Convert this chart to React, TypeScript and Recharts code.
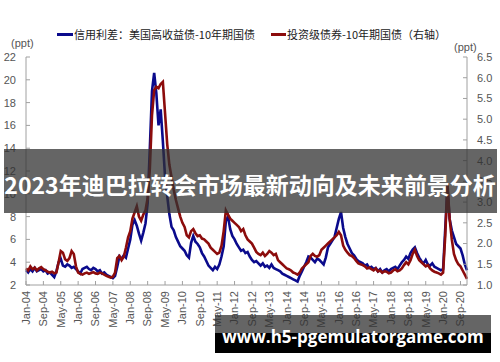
import React from 'react';
import { LineChart, Line, XAxis, YAxis } from 'recharts';

// Categories: monthly, Jan-04 .. Dec-20
const years = [2004, 2005, 2006, 2007, 2008, 2009, 2010, 2011, 2012, 2013, 2014, 2015, 2016, 2017, 2018, 2019, 2020];
const monthNames = ['Jan', 'Feb', 'Mar', 'Apr', 'May', 'Jun', 'Jul', 'Aug', 'Sep', 'Oct', 'Nov', 'Dec'];
const categories = years.flatMap((y) => monthNames.map((m) => `${m}-${String(y).slice(2)}`));

// 信用利差：美国高收益债-10年期国债 (left axis, ppt)
const hySpread = [
  3.3, 3.1, 3.4, 3.2, 3.5, 3.2, 3.3, 3.4, 3.2, 3.3, 3.0, 3.1, // 2004
  2.9, 2.7, 3.2, 4.0, 4.3, 3.7, 3.6, 3.8, 3.7, 3.5, 3.6, 3.4, // 2005
  3.2, 3.0, 3.4, 3.5, 3.6, 3.4, 3.3, 3.5, 3.4, 3.2, 3.3, 3.0, // 2006
  3.1, 2.9, 2.8, 2.7, 2.6, 2.8, 3.6, 4.5, 4.3, 4.6, 4.4, 5.2, // 2007
  6.0, 7.3, 7.7, 7.2, 6.5, 5.9, 6.6, 7.4, 9.2, 14.0, 19.0, 20.6, // 2008
  18.8, 16.0, 17.4, 14.6, 11.5, 9.8, 8.2, 7.1, 6.8, 6.2, 5.8, 5.4, // 2009
  5.2, 5.0, 4.6, 4.4, 5.7, 6.3, 5.8, 5.6, 5.3, 4.8, 4.5, 4.1, // 2010
  3.7, 3.5, 3.3, 3.6, 3.4, 3.8, 4.5, 5.4, 7.6, 8.0, 6.9, 6.3, // 2011
  6.0, 5.6, 5.3, 5.0, 5.1, 4.8, 4.9, 4.5, 4.2, 4.0, 4.1, 3.9, // 2012
  3.7, 3.9, 3.6, 3.7, 3.5, 3.8, 3.5, 3.4, 3.3, 3.2, 3.0, 2.9, // 2013
  2.8, 2.7, 2.6, 2.5, 2.4, 2.3, 2.8, 3.2, 3.6, 4.0, 4.5, 4.4, // 2014
  4.2, 4.0, 4.3, 4.2, 4.0, 3.8, 4.4, 5.3, 5.6, 5.9, 6.2, 7.0, // 2015
  7.8, 8.4, 7.0, 6.2, 5.6, 5.2, 4.8, 4.6, 4.3, 4.1, 4.0, 3.9, // 2016
  3.7, 3.8, 3.5, 3.6, 3.4, 3.5, 3.2, 3.4, 3.1, 3.3, 3.4, 3.2, // 2017
  3.4, 3.5, 3.6, 3.4, 3.7, 4.0, 4.2, 4.5, 4.3, 4.8, 5.1, 5.3, // 2018
  4.8, 4.4, 4.1, 3.9, 4.2, 3.8, 3.7, 3.9, 3.6, 3.5, 3.4, 3.3, // 2019
  3.4, 7.0, 10.6, 7.8, 6.8, 6.2, 5.6, 5.4, 5.2, 4.6, 3.8, 3.3, // 2020
];

// 投资级债券-10年期国债 (right axis, ppt)
const igSpread = [
  1.40, 1.35, 1.45, 1.38, 1.42, 1.35, 1.40, 1.43, 1.38, 1.35, 1.32, 1.30, // 2004
  1.32, 1.28, 1.30, 1.55, 1.82, 1.78, 1.62, 1.58, 1.65, 1.82, 1.75, 1.45, // 2005
  1.30, 1.27, 1.25, 1.28, 1.30, 1.27, 1.29, 1.31, 1.28, 1.27, 1.30, 1.28, // 2006
  1.25, 1.22, 1.20, 1.18, 1.20, 1.30, 1.65, 1.70, 1.60, 1.68, 1.90, 2.15, // 2007
  2.30, 2.60, 2.75, 2.90, 2.65, 2.55, 2.70, 2.80, 3.10, 3.80, 5.10, 5.70, // 2008
  5.78, 5.75, 5.85, 5.90, 5.15, 4.40, 3.90, 3.60, 3.30, 3.05, 2.85, 2.65, // 2009
  2.50, 2.40, 2.20, 2.15, 2.30, 2.35, 2.25, 2.18, 2.20, 2.12, 2.10, 2.05, // 2010
  2.00, 1.90, 1.85, 1.80, 1.75, 1.78, 1.95, 2.30, 2.80, 2.70, 2.60, 2.55, // 2011
  2.50, 2.45, 2.40, 2.30, 2.35, 2.20, 2.10, 2.05, 2.00, 1.90, 1.80, 1.75, // 2012
  1.72, 1.78, 1.70, 1.75, 1.82, 1.78, 1.72, 1.75, 1.60, 1.55, 1.50, 1.45, // 2013
  1.40, 1.38, 1.35, 1.30, 1.28, 1.25, 1.30, 1.40, 1.45, 1.50, 1.55, 1.70, // 2014
  1.75, 1.70, 1.68, 1.72, 1.85, 1.90, 1.95, 2.00, 2.05, 2.10, 2.15, 2.20, // 2015
  2.28, 2.20, 1.95, 1.85, 1.78, 1.72, 1.70, 1.65, 1.58, 1.52, 1.50, 1.48, // 2016
  1.45, 1.40, 1.42, 1.38, 1.35, 1.40, 1.33, 1.35, 1.30, 1.33, 1.32, 1.28, // 2017
  1.30, 1.35, 1.38, 1.33, 1.35, 1.40, 1.48, 1.55, 1.50, 1.60, 1.75, 1.85, // 2018
  1.70, 1.60, 1.55, 1.50, 1.45, 1.48, 1.40, 1.35, 1.32, 1.30, 1.28, 1.25, // 2019
  1.30, 2.20, 3.45, 2.60, 2.10, 1.75, 1.60, 1.50, 1.45, 1.35, 1.25, 1.15, // 2020
];

const leftTicks = [2, 4, 6, 8, 10, 12, 14, 16, 18, 20, 22];
const rightTicks = [1.0, 1.5, 2.0, 2.5, 3.0, 3.5, 4.0, 4.5, 5.0, 5.5, 6.0, 6.5];

const seriesNames = ['信用利差：美国高收益债-10年期国债', '投资级债券-10年期国债（右轴）'];
const titleText = '2023年迪巴拉转会市场最新动向及未来前景分析';
const watermarkText = 'www.h5-pgemulatorgame.com';
const unitText = '(ppt)';

const data = categories.map((c, i) => ({ month: c, hy: hySpread[i], ig: igSpread[i] }));

const BLUE = '#0a0a8c';
const RED = '#8c0c0c';
const AXIS = '#a0a0a0';
const LABEL = '#555555';
const FONT = '"Liberation Sans", Arial, sans-serif';
const CJK = '"Noto Sans CJK SC", sans-serif';

const XTick = (props: any) => {
  const { x, y, payload } = props;
  return (
    <text
      x={x}
      y={y}
      transform={`rotate(-90 ${x} ${y})`}
      textAnchor="end"
      dy="0.35em"
      fontSize={11}
      fill={LABEL}
      fontFamily={FONT}
    >
      {payload.value}
    </text>
  );
};

export default function App() {
  return (
    <div style={{ position: 'absolute', left: 0, top: 0, width: 500, height: 362, background: '#fff', overflow: 'hidden' }}>
      <LineChart width={500} height={362} data={data} margin={{ top: 57, right: 0, bottom: 0, left: 0 }}>
        <XAxis
          dataKey="month"
          height={77}
          interval={7}
          tick={<XTick />}
          tickSize={-4}
          tickMargin={10}
          axisLine={{ stroke: AXIS }}
          tickLine={{ stroke: AXIS }}
        />
        <YAxis
          yAxisId="left"
          orientation="left"
          width={26}
          domain={[2, 22]}
          ticks={leftTicks}
          tickSize={-4}
          tickMargin={14}
          tick={{ fontSize: 11, fill: LABEL, fontFamily: FONT }}
          axisLine={{ stroke: AXIS }}
          tickLine={{ stroke: AXIS }}
        />
        <YAxis
          yAxisId="right"
          orientation="right"
          width={33}
          domain={[1, 6.5]}
          ticks={rightTicks}
          tickFormatter={(v: number) => v.toFixed(1)}
          tickSize={-4}
          tickMargin={14}
          tick={{ fontSize: 11, fill: LABEL, fontFamily: FONT, textAnchor: 'start' }}
          axisLine={{ stroke: AXIS }}
          tickLine={{ stroke: AXIS }}
        />
        <Line yAxisId="left" type="linear" dataKey="hy" name={seriesNames[0]} stroke={BLUE} strokeWidth={2.6} dot={false} isAnimationActive={false} />
        <Line yAxisId="right" type="linear" dataKey="ig" name={seriesNames[1]} stroke={RED} strokeWidth={2.6} dot={false} isAnimationActive={false} />
      </LineChart>

      {/* legend */}
      <div style={{ position: 'absolute', left: 57, top: 33, width: 16, height: 3, background: BLUE }} />
      <div style={{ position: 'absolute', left: 74, top: 26, fontSize: 11, lineHeight: '16px', fontFamily: CJK, color: '#222', whiteSpace: 'nowrap' }}>{seriesNames[0]}</div>
      <div style={{ position: 'absolute', left: 271, top: 33, width: 15, height: 3, background: RED }} />
      <div style={{ position: 'absolute', left: 287, top: 26, fontSize: 11, lineHeight: '16px', fontFamily: CJK, color: '#222', whiteSpace: 'nowrap' }}>{seriesNames[1]}</div>

      {/* units */}
      <div style={{ position: 'absolute', left: 11, top: 36, fontSize: 11, lineHeight: '14px', fontFamily: FONT, color: LABEL }}>{unitText}</div>
      <div style={{ position: 'absolute', left: 454, top: 40, fontSize: 11, lineHeight: '14px', fontFamily: FONT, color: LABEL }}>{unitText}</div>

      {/* title band */}
      <div style={{ position: 'absolute', left: 4, top: 149, width: 493, height: 64, background: 'rgba(50,50,50,0.75)' }} />
      <div style={{ position: 'absolute', left: 0, top: 149, width: 500, height: 64, lineHeight: '70px', textAlign: 'center', color: '#fff', fontWeight: 700, fontSize: 23, fontFamily: CJK, whiteSpace: 'nowrap' }}>{titleText}</div>

      {/* watermark */}
      <div style={{ position: 'absolute', left: 215, top: 315, width: 276, height: 18, background: 'rgba(50,50,50,0.75)' }} />
      <div style={{ position: 'absolute', left: 215, top: 333, width: 276, height: 20, background: '#000' }} />
      <div style={{ position: 'absolute', left: 215, top: 328, width: 276, lineHeight: '18px', textAlign: 'center', color: '#fff', fontWeight: 700, fontSize: 17, fontFamily: '"Open Sans", sans-serif', whiteSpace: 'nowrap' }}>{watermarkText}</div>
    </div>
  );
}
